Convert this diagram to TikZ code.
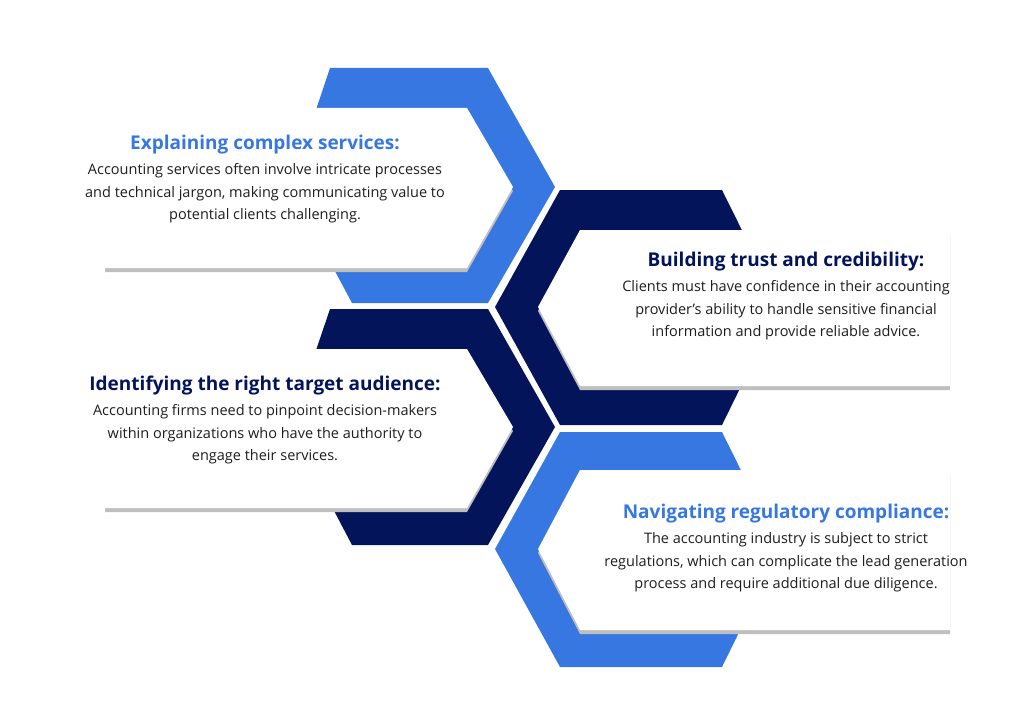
\documentclass[tikz,border=0pt]{standalone}
\usepackage{fontspec}
\setmainfont{Open Sans}
\usetikzlibrary{positioning}
\definecolor{hexblue}{RGB}{55, 119, 226}
\definecolor{hexnavy}{RGB}{4, 20, 90}
\definecolor{bodygray}{RGB}{30, 30, 30}

\begin{document}
\begin{tikzpicture}[
    x=1pt, y=-1pt,
    card/.style={fill=white},
    cardshadow/.style={fill=black!25},
    title/.style={font=\fontsize{19}{22}\selectfont\bfseries, anchor=center},
    body/.style={font=\fontsize{14.5}{22.5}\selectfont, text=bodygray, align=center, anchor=north}
]
\useasboundingbox (0,0) rectangle (1024,722);

% Hexagons
\fill[hexblue] (330,68) -- (488,68) -- (555,187) -- (488,303) -- (352,303) -- (290,187) -- cycle;
\fill[hexnavy] (330,309) -- (488,309) -- (555,427) -- (488,545) -- (352,545) -- (290,427) -- cycle;
\fill[hexnavy] (560,190) -- (722,190) -- (780,307) -- (722,425) -- (560,425) -- (495,307) -- cycle;
\fill[hexblue] (560,432) -- (722,432) -- (780,549) -- (722,667) -- (560,667) -- (495,549) -- cycle;

% Cards with shadows
\fill[cardshadow] (105,112) -- (467,112) -- (513,191) -- (467,272) -- (105,272) -- cycle;
\fill[card] (105,108) -- (467,108) -- (513,187) -- (467,268) -- (105,268) -- cycle;
\fill[cardshadow] (105,353) -- (467,353) -- (513,431) -- (467,512) -- (105,512) -- cycle;
\fill[card] (105,349) -- (467,349) -- (513,427) -- (467,508) -- (105,508) -- cycle;
\fill[cardshadow] (580,234) -- (950,234) -- (950,390) -- (580,390) -- (538,311) -- cycle;
\fill[card] (580,230) -- (950,230) -- (950,386) -- (580,386) -- (538,307) -- cycle;
\fill[cardshadow] (580,474) -- (950,474) -- (950,634) -- (580,634) -- (538,553) -- cycle;
\fill[card] (580,470) -- (950,470) -- (950,630) -- (580,630) -- (538,549) -- cycle;

% Texts
\node[title, text=hexblue] (t1) at (265,145) {Explaining complex services:};
\node[body, below=2pt of t1] (b1) {Accounting services often involve intricate processes\\and technical jargon, making communicating value to\\potential clients challenging.};

\node[title, text=hexnavy] (t2) at (786,262) {Building trust and credibility:};
\node[body, below=2pt of t2] (b2) {Clients must have confidence in their accounting\\provider's ability to handle sensitive financial\\information and provide reliable advice.};

\node[title, text=hexnavy] (t3) at (265,386) {Identifying the right target audience:};
\node[body, below=2pt of t3] (b3) {Accounting firms need to pinpoint decision-makers\\within organizations who have the authority to\\engage their services.};

\node[title, text=hexblue] (t4) at (786,514) {Navigating regulatory compliance:};
\node[body, below=2pt of t4] (b4) {The accounting industry is subject to strict\\regulations, which can complicate the lead generation\\process and require additional due diligence.};

\end{tikzpicture}
\end{document}
